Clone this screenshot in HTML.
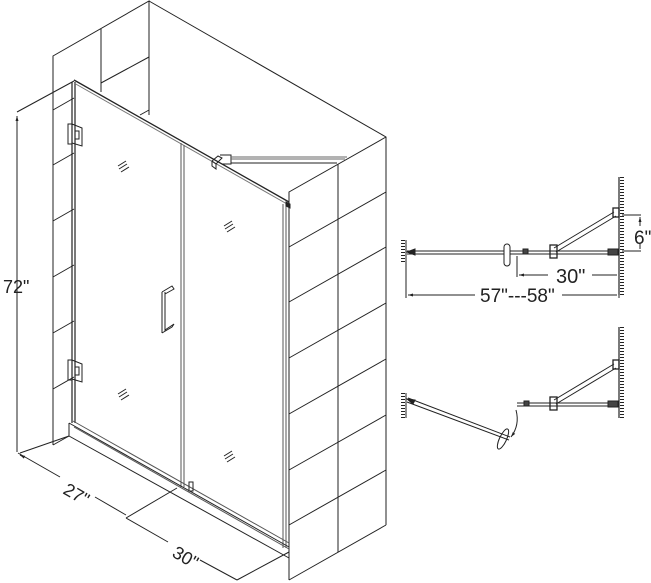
<!DOCTYPE html>
<html><head><style>
html,body{margin:0;padding:0;background:#fff;}
svg{display:block;}
text{font-family:"Liberation Sans",sans-serif;fill:#222;}
</style></head><body>
<svg width="651" height="583" viewBox="0 0 651 583" xmlns="http://www.w3.org/2000/svg">
<defs>
<marker id="a" viewBox="0 0 10 10" refX="10" refY="5" markerUnits="userSpaceOnUse" markerWidth="7" markerHeight="5" orient="auto-start-reverse"><path d="M0,2 L10,5 L0,8z" fill="#222"/></marker>
</defs>
<g stroke="#222" stroke-width="1" fill="none">
<path d="M53,445 V56 L149,1 V115"/>
<path d="M101,29 V92"/>
<path d="M101,83 L149,57"/>
<path d="M149,1 L386,137 V525"/>
<path d="M149,110 L140,115"/>
<path d="M53,110 L74,98 M53,165 L74,153 M53,221 L74,209 M53,277 L74,265 M53,333 L74,321 M53,389 L74,377"/>
<path d="M386,137 L289,192 V580"/>
<path d="M338,164 V552"/>
<path d="M289,247 L386,192 M289,302 L386,247 M289,358 L386,303 M289,414 L386,359 M289,470 L386,415 M289,525 L386,470 M289,580 L386,525"/>
<path d="M72,82 V423" stroke-width="1.2"/>
<path d="M75,82 V423" stroke-width="1.2"/>
<path d="M74,80 L289,202" stroke-width="1.3"/>
<path d="M74,83 L287,204" stroke="#777" stroke-width="1"/>
<path d="M181,143 V487 M184,145 V487" stroke="#555"/>
<path d="M283,204 V548 M286,204 V548" stroke="#555"/>
<path d="M286,202 l4,2 v4 l-4,-2z" fill="#222"/>
<path d="M69,423 L289,547"/>
<path d="M73,421 L289,543" stroke="#555"/>
<path d="M74,427 L289,549" stroke="#555"/>
<path d="M69,423 V436 L289,558"/>
<path d="M53,445 L69,436"/>
<rect x="189" y="482" width="4" height="9" stroke="#222"/>
<path d="M68,124 h4 v20 h-4z M72,124 l10,4 v18 l-10,-3z M75,131 h4 v8 h-4z"/>
<path d="M68,360 h4 v20 h-4z M72,360 l10,4 v18 l-10,-3z M75,367 h4 v8 h-4z"/>
<path d="M162,292 V333 M165,292 V331 M162,292 L172,286 L174,289 L165,294 M162,333 L172,327 L174,324 L165,330"/>
<path d="M118,166 l8,-5 M119,169 l8,-5 M121,172 l8,-5"/>
<path d="M224,226 l8,-5 M225,229 l8,-5 M227,232 l8,-5"/>
<path d="M118,394 l8,-5 M119,397 l8,-5 M121,400 l8,-5"/>
<path d="M224,456 l8,-5 M225,459 l8,-5 M227,462 l8,-5"/>
<path d="M212,161 l6,-5 l4,2 l-6,6 z M216,164 v5 l-4,-3 v-5"/>
<path d="M220,155 h11 v9 h-9"/>
<path d="M231,157 H347 M231,159 H345" stroke="#666"/>
<path d="M231,163 H337"/>
<path d="M17,112 L74,81"/>
<path d="M17,452 V116" marker-end="url(#a)"/>
<path d="M20,453 L69,436"/>
<path d="M18,453 L60,477 M95,497 L126,515" />
<path d="M20,455 L24,457" marker-start="url(#a)"/>
<path d="M126,518 L177,488"/>
<path d="M126,518 L168,542 M200,560 L237,580"/>
<path d="M237,580 L289,552"/>
</g>
<text x="3" y="293" font-size="18">72"</text>
<text x="0" y="0" font-size="18" transform="translate(62,493) rotate(30)">27"</text>
<text x="0" y="0" font-size="18" transform="translate(171,556) rotate(30)">30"</text>

<g stroke="#222" fill="none" stroke-width="1">
<path d="M619,177 V295" stroke-width="1.2"/>
<path d="M622,177 V295" stroke-width="4" stroke-dasharray="1 2"/>
<path d="M406,240 V264"/>
<path d="M403,240 V264" stroke-width="4" stroke-dasharray="1 2"/>
<path d="M407,251 H504 M407,254 H504" />
<path d="M510,251 H615 M510,254 H615"/>
<path d="M407,252 l8,-3 v6z" fill="#222"/>
<rect x="504" y="244" width="6" height="22" rx="3"/>
<rect x="523" y="249" width="5" height="5" fill="#444"/>
<rect x="550" y="245" width="7" height="13" stroke-width="1.3"/>
<path d="M554,248 L614,212 M556,252 L616,216"/>
<rect x="613" y="208" width="6" height="9" stroke-width="1.3"/>
<rect x="608" y="249" width="10" height="6" fill="#444"/>
<path d="M622,215 H641 M622,251 H641"/>
<path d="M640,217 V226 M640,243 V249" marker-start="url(#a)"/>
<path d="M517,256 V277"/>
<path d="M519,275 H548 M592,275 H617" marker-start="url(#a)"/>
<path d="M406,264 V298 M619,280 V298"/>
<path d="M408,295 H475 M562,295 H617" marker-start="url(#a)"/>
</g>
<text x="634" y="244" font-size="19">6"</text>
<text x="556" y="283" font-size="20">30"</text>
<text x="480" y="302" font-size="19">57"---58"</text>

<g stroke="#222" fill="none" stroke-width="1">
<path d="M619,327 V418" stroke-width="1.2"/>
<path d="M622,327 V418" stroke-width="4" stroke-dasharray="1 2"/>
<path d="M406,393 V418"/>
<path d="M403,393 V418" stroke-width="4" stroke-dasharray="1 2"/>
<path d="M408,398 L510,437 M407,402 L509,440"/>
<path d="M407,399 l8,1 l-2,4z" fill="#222"/>
<ellipse cx="503" cy="439" rx="3.5" ry="11" transform="rotate(25 503 439)"/>
<path d="M517,403 H615 M517,406 H615"/>
<rect x="524" y="401" width="5" height="5" fill="#444"/>
<rect x="550" y="397" width="7" height="13" stroke-width="1.3"/>
<path d="M554,400 L614,364 M556,404 L616,368"/>
<rect x="613" y="360" width="6" height="9" stroke-width="1.3"/>
<rect x="608" y="401" width="10" height="6" fill="#444"/>
<path d="M516,410 Q520,425 511,437" marker-end="url(#a)"/>
</g>
</svg>
</body></html>
